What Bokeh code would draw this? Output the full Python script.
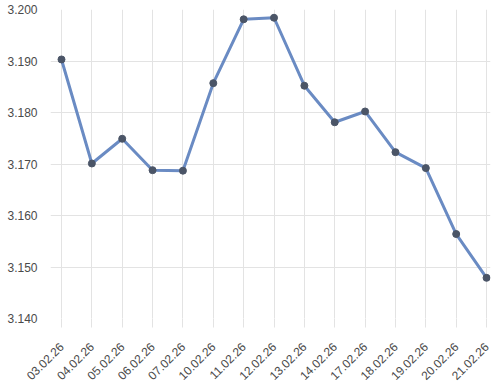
from bokeh.plotting import figure
from bokeh.models import Range1d, FixedTicker, ColumnDataSource
from bokeh.embed import file_html
from bokeh.resources import INLINE
import math

dates = ["03.02.26", "04.02.26", "05.02.26", "06.02.26", "07.02.26", "10.02.26",
         "11.02.26", "12.02.26", "13.02.26", "14.02.26", "17.02.26", "18.02.26",
         "19.02.26", "20.02.26", "21.02.26"]
rates = [3.1903, 3.1701, 3.1749, 3.1688, 3.1687, 3.1857, 3.1981, 3.1984,
         3.1852, 3.1781, 3.1802, 3.1723, 3.1692, 3.1564, 3.1479]
y_ticks = [3.140, 3.150, 3.160, 3.170, 3.180, 3.190, 3.200]

xs = list(range(len(dates)))
src = ColumnDataSource(data=dict(x=xs, y=rates))

p = figure(width=497, height=389, output_backend="svg", toolbar_location=None,
           x_range=Range1d(-0.362, len(dates) - 1 + 0.13), y_range=Range1d(3.140, 3.200),
           min_border_left=50, min_border_right=7, min_border_top=9, min_border_bottom=71)
p.outline_line_color = None
p.background_fill_color = "white"
p.border_fill_color = "white"

grid_col = "#e3e3e3"
p.xgrid.grid_line_color = grid_col
p.ygrid.grid_line_color = grid_col

p.xaxis.ticker = FixedTicker(ticks=xs)
p.xaxis.major_label_overrides = {i: d for i, d in enumerate(dates)}
p.xaxis.major_label_orientation = math.pi / 4
p.yaxis.ticker = FixedTicker(ticks=y_ticks)
p.yaxis.major_label_overrides = {t: f"{t:.3f}" for t in y_ticks}

for ax in (p.xaxis[0], p.yaxis[0]):
    ax.axis_line_color = None
    ax.major_tick_line_color = grid_col
    ax.minor_tick_line_color = None
    ax.major_tick_in = 0
    ax.major_label_text_font = "Liberation Sans"
    ax.major_label_text_font_size = "12px"
    ax.major_label_text_color = "#4a4a4a"
p.yaxis.major_tick_out = 0
p.yaxis.major_label_standoff = 13
p.xaxis.major_tick_out = 9
p.xaxis.major_label_standoff = 17

p.line("x", "y", source=src, line_color="#6a8bc3", line_width=3)
p.scatter("x", "y", source=src, size=7, fill_color="#4b5567", line_color="#4b5567")

open("out.html", "w").write(file_html(p, INLINE))
